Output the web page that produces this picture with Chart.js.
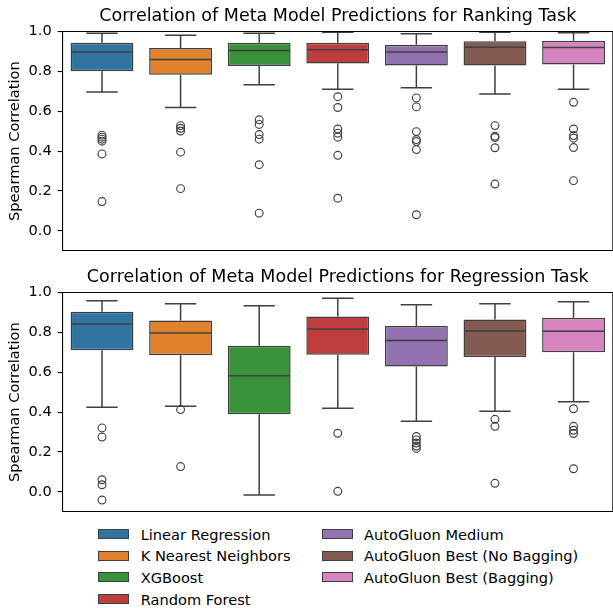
<!DOCTYPE html>
<html>
<head>
<meta charset="utf-8">
<script src="https://cdn.jsdelivr.net/npm/chart.js@4.4.1/dist/chart.umd.min.js"></script>
<style>
html,body{margin:0;padding:0;background:#fff;overflow:hidden;width:613px;height:608px;}
#wrap{position:relative;width:613px;height:608px;overflow:hidden;font-family:"DejaVu Sans",sans-serif;color:#000;}
canvas{position:absolute;left:0;}
#c1{top:0;}
#c2{top:261px;}
.lg{position:absolute;height:17px;line-height:17px;font-size:14.6px;white-space:nowrap;}
.lg i{position:absolute;left:0;top:3.5px;width:29px;height:8px;border:1px solid #3f3f3f;}
.lg span{position:absolute;left:42.4px;top:0;}
</style>
</head>
<body>
<div id="wrap">
  <canvas id="c1" width="618" height="256" style="width:618px;height:256px;"></canvas>
  <canvas id="c2" width="618" height="256" style="width:618px;height:256px;"></canvas>
  <div id="legend"></div>
</div>
<script>
const categories = ['Linear Regression','K Nearest Neighbors','XGBoost','Random Forest','AutoGluon Medium','AutoGluon Best (No Bagging)','AutoGluon Best (Bagging)'];
const colors = ['#3274a1','#e1812c','#3a923a','#c03d3e','#9372b2','#845b53','#d684bd'];
const yTicks = [0.0,0.2,0.4,0.6,0.8,1.0];

// Ranking task
const rankLow    = [0.696,0.619,0.733,0.710,0.718,0.686,0.711];
const rankQ1     = [0.801,0.783,0.827,0.840,0.830,0.830,0.835];
const rankMedian = [0.897,0.860,0.905,0.908,0.897,0.921,0.920];
const rankQ3     = [0.943,0.917,0.943,0.943,0.933,0.951,0.954];
const rankHigh   = [0.991,0.981,0.991,0.996,0.989,0.996,0.994];
const rankOutliers = [
  [0.480,0.470,0.460,0.450,0.386,0.147],
  [0.528,0.515,0.501,0.395,0.212],
  [0.557,0.534,0.483,0.460,0.332,0.089],
  [0.673,0.619,0.511,0.490,0.470,0.379,0.164],
  [0.667,0.622,0.498,0.458,0.448,0.408,0.081],
  [0.528,0.475,0.468,0.417,0.235],
  [0.645,0.511,0.478,0.465,0.418,0.252]
];

// Regression task
const regLow    = [0.425,0.430,-0.015,0.419,0.354,0.405,0.452];
const regQ1     = [0.710,0.685,0.389,0.688,0.629,0.677,0.700];
const regMedian = [0.842,0.797,0.582,0.817,0.759,0.807,0.806];
const regQ3     = [0.903,0.859,0.733,0.880,0.832,0.865,0.873];
const regHigh   = [0.959,0.943,0.933,0.971,0.938,0.943,0.953];
const regOutliers = [
  [0.321,0.275,0.061,0.036,-0.041],
  [0.413,0.127],
  [],
  [0.294,0.003],
  [0.278,0.261,0.245,0.230,0.218],
  [0.364,0.329,0.043],
  [0.417,0.329,0.309,0.293,0.116]
];

const EDGE = '#3f3f3f';
const FONT = 'DejaVu Sans';

function makeBoxPlugin(low, med, high, q1, q3) {
  return {
    id: 'boxParts',
    afterDatasetsDraw(chart) {
      const {ctx, chartArea} = chart;
      const xs = chart.scales.x, ys = chart.scales.y;
      const meta = chart.getDatasetMeta(0);
      ctx.save();
      ctx.strokeStyle = EDGE;
      ctx.lineWidth = 1.5;
      categories.forEach((c, i) => {
        const x = xs.getPixelForValue(i);
        const w = meta.data[i].width;
        const capHalf = w / 4;
        const yL = ys.getPixelForValue(low[i]);
        const yH = ys.getPixelForValue(high[i]);
        const y1 = ys.getPixelForValue(q1[i]);
        const y3 = ys.getPixelForValue(q3[i]);
        const yM = ys.getPixelForValue(med[i]);
        ctx.beginPath();
        ctx.moveTo(x, y1); ctx.lineTo(x, yL);
        ctx.moveTo(x, y3); ctx.lineTo(x, yH);
        ctx.moveTo(x - capHalf, yL); ctx.lineTo(x + capHalf, yL);
        ctx.moveTo(x - capHalf, yH); ctx.lineTo(x + capHalf, yH);
        ctx.moveTo(x - w / 2 + 0.75, yM); ctx.lineTo(x + w / 2 - 0.75, yM);
        ctx.stroke();
      });
      ctx.strokeStyle = '#000';
      ctx.lineWidth = 1.1;
      ctx.beginPath();
      ctx.moveTo(chartArea.left, chartArea.top);
      ctx.lineTo(chartArea.right, chartArea.top);
      ctx.lineTo(chartArea.right, chartArea.bottom);
      ctx.stroke();
      ctx.restore();
    }
  };
}

function makeChart(id, title, low, q1, med, q3, high, outliers) {
  const outlierPoints = [];
  outliers.forEach((arr, i) => arr.forEach(v => outlierPoints.push({x: categories[i], y: v})));
  return new Chart(document.getElementById(id), {
    type: 'bar',
    data: {
      labels: categories,
      datasets: [
        {
          type: 'bar',
          label: 'box',
          data: categories.map((c, i) => [q1[i], q3[i]]),
          backgroundColor: colors,
          borderColor: EDGE,
          borderWidth: 1.5,
          borderSkipped: false,
          barPercentage: 0.8,
          categoryPercentage: 1.0,
          order: 2
        },
        {
          type: 'scatter',
          label: 'outliers',
          data: outlierPoints,
          pointStyle: 'circle',
          pointRadius: 3.9,
          pointBackgroundColor: 'rgba(0,0,0,0)',
          pointBorderColor: EDGE,
          pointBorderWidth: 1.15,
          order: 1
        }
      ]
    },
    options: {
      responsive: false,
      animation: false,
      events: [],
      layout: {padding: {top: 0, left: 0, right: 1.5, bottom: 3}},
      plugins: {
        legend: {display: false},
        tooltip: {enabled: false},
        title: {
          display: true,
          text: title,
          fullSize: false,
          color: '#000',
          font: {family: FONT, size: 17.5, weight: 'normal'},
          padding: {top: 6, bottom: 4.5}
        }
      },
      scales: {
        x: {
          display: true,
          ticks: {display: false},
          grid: {display: false, drawTicks: false},
          border: {display: true, color: '#000', width: 1.1},
          afterFit: s => { s.height = 0; }
        },
        y: {
          min: -0.1,
          max: 1.0,
          afterBuildTicks: s => { s.ticks = yTicks.map(v => ({value: v})); },
          afterFit: s => { s.width = 62.7; s.paddingTop = 0; s.paddingBottom = 0; },
          ticks: {
            callback: v => Number(v).toFixed(1),
            color: '#000',
            font: {family: FONT, size: 14.6},
            padding: 5.9
          },
          grid: {display: true, drawOnChartArea: false, drawTicks: true, tickLength: 5.1, color: '#000', lineWidth: 1.1},
          border: {display: true, color: '#000', width: 1.1},
          title: {
            display: true,
            text: 'Spearman Correlation',
            color: '#000',
            font: {family: FONT, size: 14.6},
            padding: {top: 6.7, bottom: 0}
          }
        }
      }
    },
    plugins: [makeBoxPlugin(low, med, high, q1, q3)]
  });
}

makeChart('c1', 'Correlation of Meta Model Predictions for Ranking Task', rankLow, rankQ1, rankMedian, rankQ3, rankHigh, rankOutliers);
makeChart('c2', 'Correlation of Meta Model Predictions for Regression Task', regLow, regQ1, regMedian, regQ3, regHigh, regOutliers);

// Legend (two columns, column-major like the reference)
const legendCols = [98.3, 321.7];
const legendRows = [534, 555.7, 577.3, 599];
const lg = document.getElementById('legend');
categories.forEach((c, i) => {
  const col = i < 4 ? 0 : 1;
  const row = i < 4 ? i : i - 4;
  const d = document.createElement('div');
  d.className = 'lg';
  d.style.left = legendCols[col] + 'px';
  d.style.top = (legendRows[row] - 8.5) + 'px';
  const p = document.createElement('i');
  p.style.background = colors[i];
  const t = document.createElement('span');
  t.textContent = c;
  d.appendChild(p); d.appendChild(t);
  lg.appendChild(d);
});
</script>
</body>
</html>
